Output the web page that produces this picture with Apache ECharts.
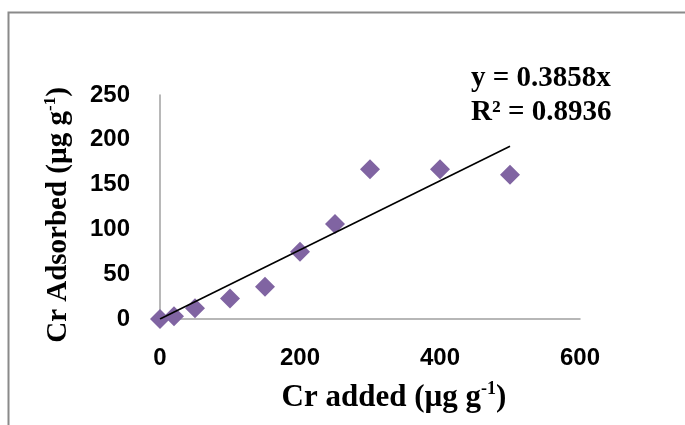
<!DOCTYPE html>
<html>
<head>
<meta charset="utf-8">
<script src="https://cdn.jsdelivr.net/npm/echarts@6/dist/echarts.min.js"></script>
<style>
html,body{margin:0;padding:0;background:#fff;}
#chart{width:685px;height:425px;}
</style>
</head>
<body>
<div id="chart"></div>
<script>
// Data
const crAdded = [0, 20, 50, 100, 150, 200, 250, 300, 400, 500];
const crAdsorbed = [0, 3, 12, 23, 36, 75, 106, 167, 167, 161];
const slope = 0.3858;
const rSquared = 0.8936;
const trendX = [0, 500];
const xTicks = [0, 200, 400, 600];
const yTicks = [0, 50, 100, 150, 200, 250];

const points = crAdded.map((x, i) => [x, crAdsorbed[i]]);
const trend = trendX.map(x => [x, +(slope * x).toFixed(2)]);

const chart = echarts.init(document.getElementById('chart'));
const serif = '"Liberation Serif", "Times New Roman", serif';
const sans = '"Liberation Sans", Arial, sans-serif';

chart.setOption({
  animation: false,
  backgroundColor: '#fff',
  grid: { left: 160, right: 105, top: 95, bottom: 106 },
  xAxis: {
    type: 'value',
    min: xTicks[0], max: xTicks[xTicks.length - 1], interval: 200,
    axisLine: { show: true, onZero: false, lineStyle: { color: '#a0a0a0', width: 1.5 } },
    axisTick: { show: false },
    splitLine: { show: false },
    axisLabel: { margin: 27, color: '#000', fontFamily: sans, fontWeight: 'bold', fontSize: 24 },
    name: '{m|Cr added (µg g}{s|-1}{m|)}',
    nameLocation: 'middle',
    nameGap: 61,
    nameTextStyle: {
      padding: [0, 0, 0, 48],
      rich: {
        m: { fontFamily: serif, fontWeight: 'bold', fontSize: 31, color: '#000', lineHeight: 36 },
        s: { fontFamily: serif, fontWeight: 'bold', fontSize: 18, color: '#000', lineHeight: 36, verticalAlign: 'top', padding: [0, 0, 12, 0] }
      }
    }
  },
  yAxis: {
    type: 'value',
    min: yTicks[0], max: yTicks[yTicks.length - 1], interval: 50,
    axisLine: { show: true, lineStyle: { color: '#a0a0a0', width: 1.5 } },
    axisTick: { show: false },
    splitLine: { show: false },
    axisLabel: { margin: 30, color: '#000', fontFamily: sans, fontWeight: 'bold', fontSize: 24 },
    name: '{m|Cr Adsorbed (µg g}{s|-1}{m|)}',
    nameLocation: 'middle',
    nameRotate: 90,
    nameGap: 84,
    nameTextStyle: {
      padding: [0, 16, 0, 0],
      rich: {
        m: { fontFamily: serif, fontWeight: 'bold', fontSize: 29, color: '#000', lineHeight: 34 },
        s: { fontFamily: serif, fontWeight: 'bold', fontSize: 17, color: '#000', lineHeight: 34, verticalAlign: 'top', padding: [0, 0, 12, 0] }
      }
    }
  },
  graphic: [
    {
      type: 'rect', silent: true,
      shape: { x: 8.5, y: 12.5, width: 720, height: 440 },
      style: { fill: 'none', stroke: '#8a8a8a', lineWidth: 2 }
    },
    {
      type: 'text', left: 471, top: 64,
      style: { text: 'y = ' + slope + 'x', font: 'bold 29px ' + serif, fill: '#000' }
    },
    {
      type: 'text', left: 471, top: 98,
      style: { text: 'R² = ' + rSquared, font: 'bold 29px ' + serif, fill: '#000' }
    }
  ],
  series: [
    {
      type: 'line',
      data: trend,
      showSymbol: false,
      symbol: 'none',
      lineStyle: { color: '#000', width: 1.6 },
      z: 3
    },
    {
      type: 'scatter',
      data: points,
      symbol: 'diamond',
      symbolSize: 20,
      itemStyle: { color: '#8064a2', opacity: 1 },
      z: 2
    }
  ]
});
</script>
</body>
</html>
